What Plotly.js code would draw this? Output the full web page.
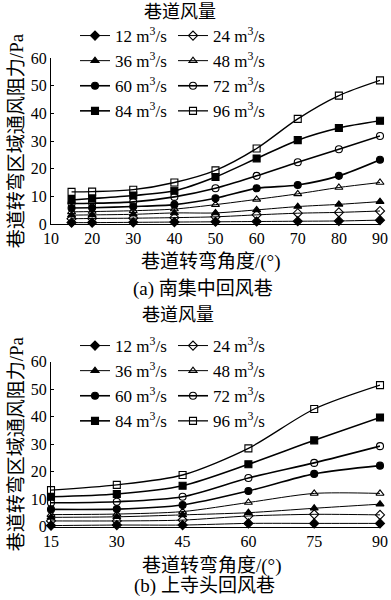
<!DOCTYPE html>
<html><head><meta charset="utf-8">
<script src="https://cdn.plot.ly/plotly-3.0.1.min.js"></script>
<style>html,body{margin:0;padding:0;background:#fff}#c{width:391px;height:600px}</style>
</head><body><div id="c"></div>
<script>
// Data
const flows = ['12','24','36','48','60','72','84','96'];
const angA = [15,20,30,40,50,60,70,80,90];
const a12 = [0.5,0.5,0.6,0.7,0.8,0.9,1.0,1.1,1.4];
const a24 = [1.9,2.0,2.1,2.3,2.6,3.3,3.9,4.2,4.7];
const a36 = [3.2,3.3,3.5,4.0,4.0,5.1,6.3,7.1,8.1];
const a48 = [4.4,4.5,4.8,5.4,7.0,8.9,10.9,13.2,15.0];
const a60 = [5.8,5.9,6.3,7.0,9.3,12.9,14.1,17.4,23.2];
const a72 = [7.4,7.5,8.0,9.8,12.9,17.4,22.3,27.0,31.8];
const a84 = [8.7,9.2,10.3,12.0,17.0,23.7,30.3,34.7,37.3];
const a96 = [11.6,11.7,12.4,15.0,19.4,27.3,38.0,46.4,51.9];
const angB = [15,30,45,60,75,90];
const b12 = [0.4,0.6,0.6,1.2,1.2,1.2];
const b24 = [2.1,2.1,2.4,3.9,4.5,4.3];
const b36 = [3.4,3.6,4.3,5.1,6.7,8.2];
const b48 = [4.4,4.6,5.5,8.8,12.1,12.1];
const b60 = [6.3,6.4,7.9,13.0,19.2,22.2];
const b72 = [8.7,9.1,10.9,17.7,23.2,29.3];
const b84 = [10.9,11.9,14.9,22.7,31.4,39.7];
const b96 = [13.3,15.2,18.8,28.5,42.8,51.5];
const ticksA = [10,20,30,40,50,60,70,80,90];
const ticksB = [15,30,45,60,75,90];
const ticksY = [0,10,20,30,40,50,60];

const seriesA = [a12,a24,a36,a48,a60,a72,a84,a96];
const seriesB = [b12,b24,b36,b48,b60,b72,b84,b96];
const symbols = ['diamond','diamond-open','triangle-up','triangle-up-open','circle','circle-open','square','square-open'];
const widths = [1,1,1,1,1.6,1.6,1.6,1.3];

const SERIF = '"Liberation Serif","Times New Roman",serif';
const CJK = '"Liberation Serif","Noto Sans CJK SC",serif';

const traces = [];
function add(xs, ys, i, xa, ya, legs){
  traces.push({
    type:'scatter', mode:'lines+markers', x:xs, y:ys, xaxis:xa, yaxis:ya,
    name: flows[i]+' m<sup>3</sup>/s', legend: legs[i%2], legendgroup: xa+'g'+i,
    line:{color:'#000', width:widths[i], shape:'spline', smoothing:0.8},
    marker:{symbol:symbols[i], size:7, color:'#000', line:{color:'#000', width:1.1}},
    cliponaxis:false
  });
}
seriesA.forEach((s,i)=>add(angA,s,i,'x','y',['legend','legend2']));
seriesB.forEach((s,i)=>add(angB,s,i,'x2','y2',['legend3','legend4']));

const X0 = 51/391, X1 = 380/391;
const py = p => 1 - p/600;
const axCommon = {showline:true, linecolor:'#000', linewidth:1, ticks:'inside', ticklen:3, tickcolor:'#000',
  showgrid:false, zeroline:false, tickfont:{family:SERIF, size:16, color:'#000'}, mirror:false, automargin:false};
const ytitle = {text:'巷道转弯区域通风阻力/Pa', font:{family:CJK, size:19, color:'#000'}, standoff:2};
const legCommon = {orientation:'v', bgcolor:'rgba(0,0,0,0)', borderwidth:0, tracegroupgap:0,
  font:{family:SERIF, size:17, color:'#000'}, xanchor:'left', yanchor:'top', itemwidth:30};

function note(text, x, y, size){
  return {text:text, x:x/391, y:py(y), xref:'paper', yref:'paper', xanchor:'center', yanchor:'middle',
    showarrow:false, font:{family:CJK, size:size, color:'#000'}};
}

const layout = {
  width:391, height:600, margin:{l:0,r:0,t:0,b:0}, paper_bgcolor:'#fff', plot_bgcolor:'#fff',
  xaxis: Object.assign({}, axCommon, {domain:[X0,X1], range:[10,90], tickvals:ticksA, anchor:'y'}),
  yaxis: Object.assign({}, axCommon, {domain:[py(224),py(58)], range:[0,60], tickvals:ticksY, anchor:'x', title:ytitle}),
  xaxis2: Object.assign({}, axCommon, {domain:[X0,X1], range:[15,90], tickvals:ticksB, anchor:'y2'}),
  yaxis2: Object.assign({}, axCommon, {domain:[py(526.7),py(361.7)], range:[0,60], tickvals:ticksY, anchor:'x2', title:ytitle}),
  legend: Object.assign({}, legCommon, {x:75/391, y:py(18)}),
  legend2: Object.assign({}, legCommon, {x:173/391, y:py(18)}),
  legend3: Object.assign({}, legCommon, {x:75/391, y:py(328)}),
  legend4: Object.assign({}, legCommon, {x:173/391, y:py(328)}),
  annotations: [
    note('巷道风量', 180, 12, 18),
    note('巷道风量', 178, 315, 18),
    note('巷道转弯角度/(°)', 211, 262, 19),
    note('巷道转弯角度/(°)', 212, 566, 19),
    note('(a) 南集中回风巷', 203, 289, 19),
    note('(b) 上寺头回风巷', 204, 586, 19)
  ]
};
Plotly.newPlot('c', traces, layout, {staticPlot:true, displayModeBar:false});
</script></body></html>
